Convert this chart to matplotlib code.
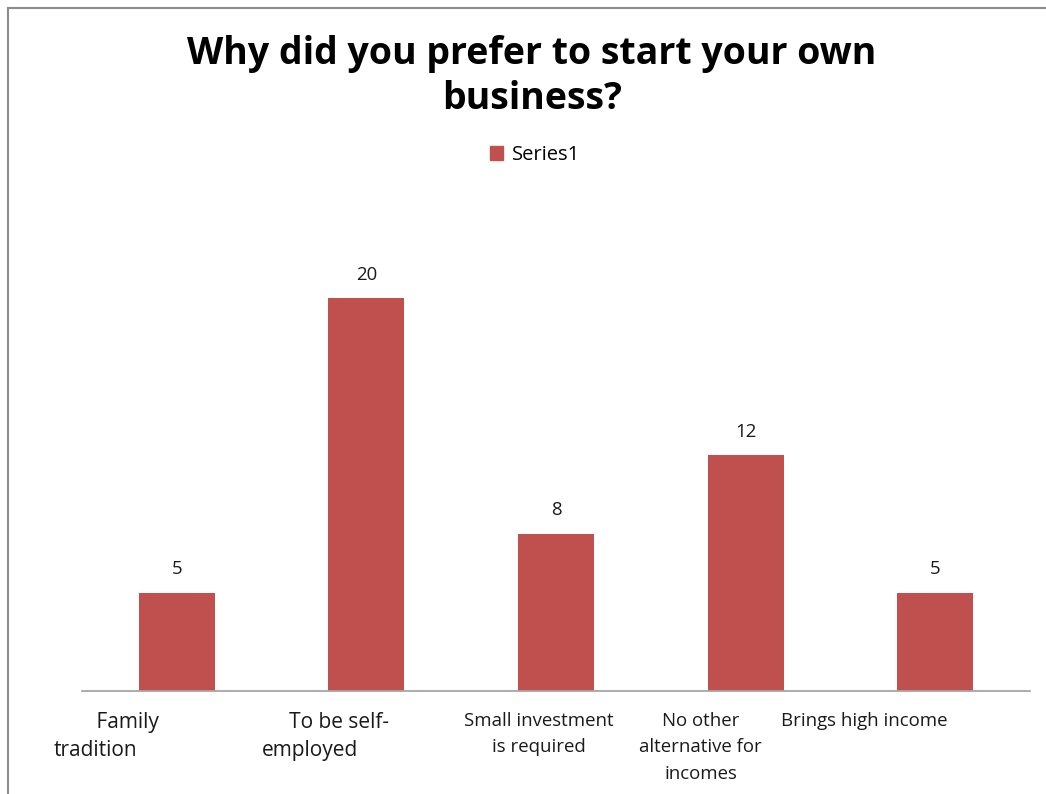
import matplotlib
matplotlib.use("Agg")
import matplotlib.pyplot as plt
from matplotlib.lines import Line2D
from matplotlib.patches import Patch
import matplotlib.transforms as mtransforms

categories = ["Family tradition", "To be self-employed", "Small investment is required",
              "No other alternative for incomes", "Brings high income"]
wrapped = ["            Family\ntradition", "           To be self-\nemployed", "Small investment\nis required",
           "No other\nalternative for\nincomes", "Brings high income"]
values = [5, 20, 8, 12, 5]
series_name = "Series1"
title = "Why did you prefer to start your own\nbusiness?"

BAR = "#C0504D"
FONT = "Open Sans"

W, H = 1046, 794
fig = plt.figure(figsize=(W / 100, H / 100), dpi=100)
fig.patch.set_facecolor("white")

# chart border (top and left visible)
fig.add_artist(Line2D([8 / W, 8 / W], [0, 1 - 8 / H], color="#8c8c8c", lw=1.5, transform=fig.transFigure))
fig.add_artist(Line2D([8 / W, 1], [1 - 8 / H, 1 - 8 / H], color="#8c8c8c", lw=1.5, transform=fig.transFigure))

ax = fig.add_axes([82 / W, (H - 691) / H, (1030 - 82) / W, (691 - 200) / H])
x = list(range(len(values)))
bars = ax.bar(x, values, width=0.4, color=BAR, zorder=2)
ax.set_xlim(-0.5, len(values) - 0.5)
ax.set_ylim(0, 25)

for s in ["top", "right", "left"]:
    ax.spines[s].set_visible(False)
ax.spines["bottom"].set_color("#a6a6a6")
ax.spines["bottom"].set_linewidth(1.3)
ax.set_yticks([])
ax.set_xticks(x)
ax.set_xticklabels(wrapped, fontsize=13.4, family=FONT, color="#1a1a1a", va="top", linespacing=1.6)
ax.tick_params(axis="x", length=0, pad=15)

# per-label horizontal offsets (px) and sizes to match reference placement
offsets = [-81.5, -56.5, -17, -45, -71]
sizes = [15, 15, 13.4, 13.4, 13.4]
for lab, dx, fs in zip(ax.get_xticklabels(), offsets, sizes):
    lab.set_fontsize(fs)
    lab.set_linespacing(1.6 * 13.4 / fs)
    lab.set_transform(lab.get_transform() + mtransforms.ScaledTranslation(dx / 100, 0, fig.dpi_scale_trans))

for rect, v in zip(bars, values):
    ax.annotate(str(v), (rect.get_x() + rect.get_width() / 2, v), xytext=(0, 10.5), textcoords="offset points",
                ha="center", va="bottom", fontsize=13.4, family=FONT, color="#1a1a1a")

fig.text(532 / W, 1 - 76.5 / H, title, ha="center", va="center", fontsize=27, fontweight="bold",
         family=FONT, color="black", linespacing=1.25)

leg = fig.legend(handles=[Patch(color=BAR, label=series_name)], loc="center", bbox_to_anchor=(535 / W, 1 - 155 / H),
                 frameon=False, prop={"family": FONT, "size": 14.5}, handlelength=0.65, handleheight=0.65,
                 handletextpad=0.45)

fig.savefig("out.png", dpi=100, facecolor="white")
